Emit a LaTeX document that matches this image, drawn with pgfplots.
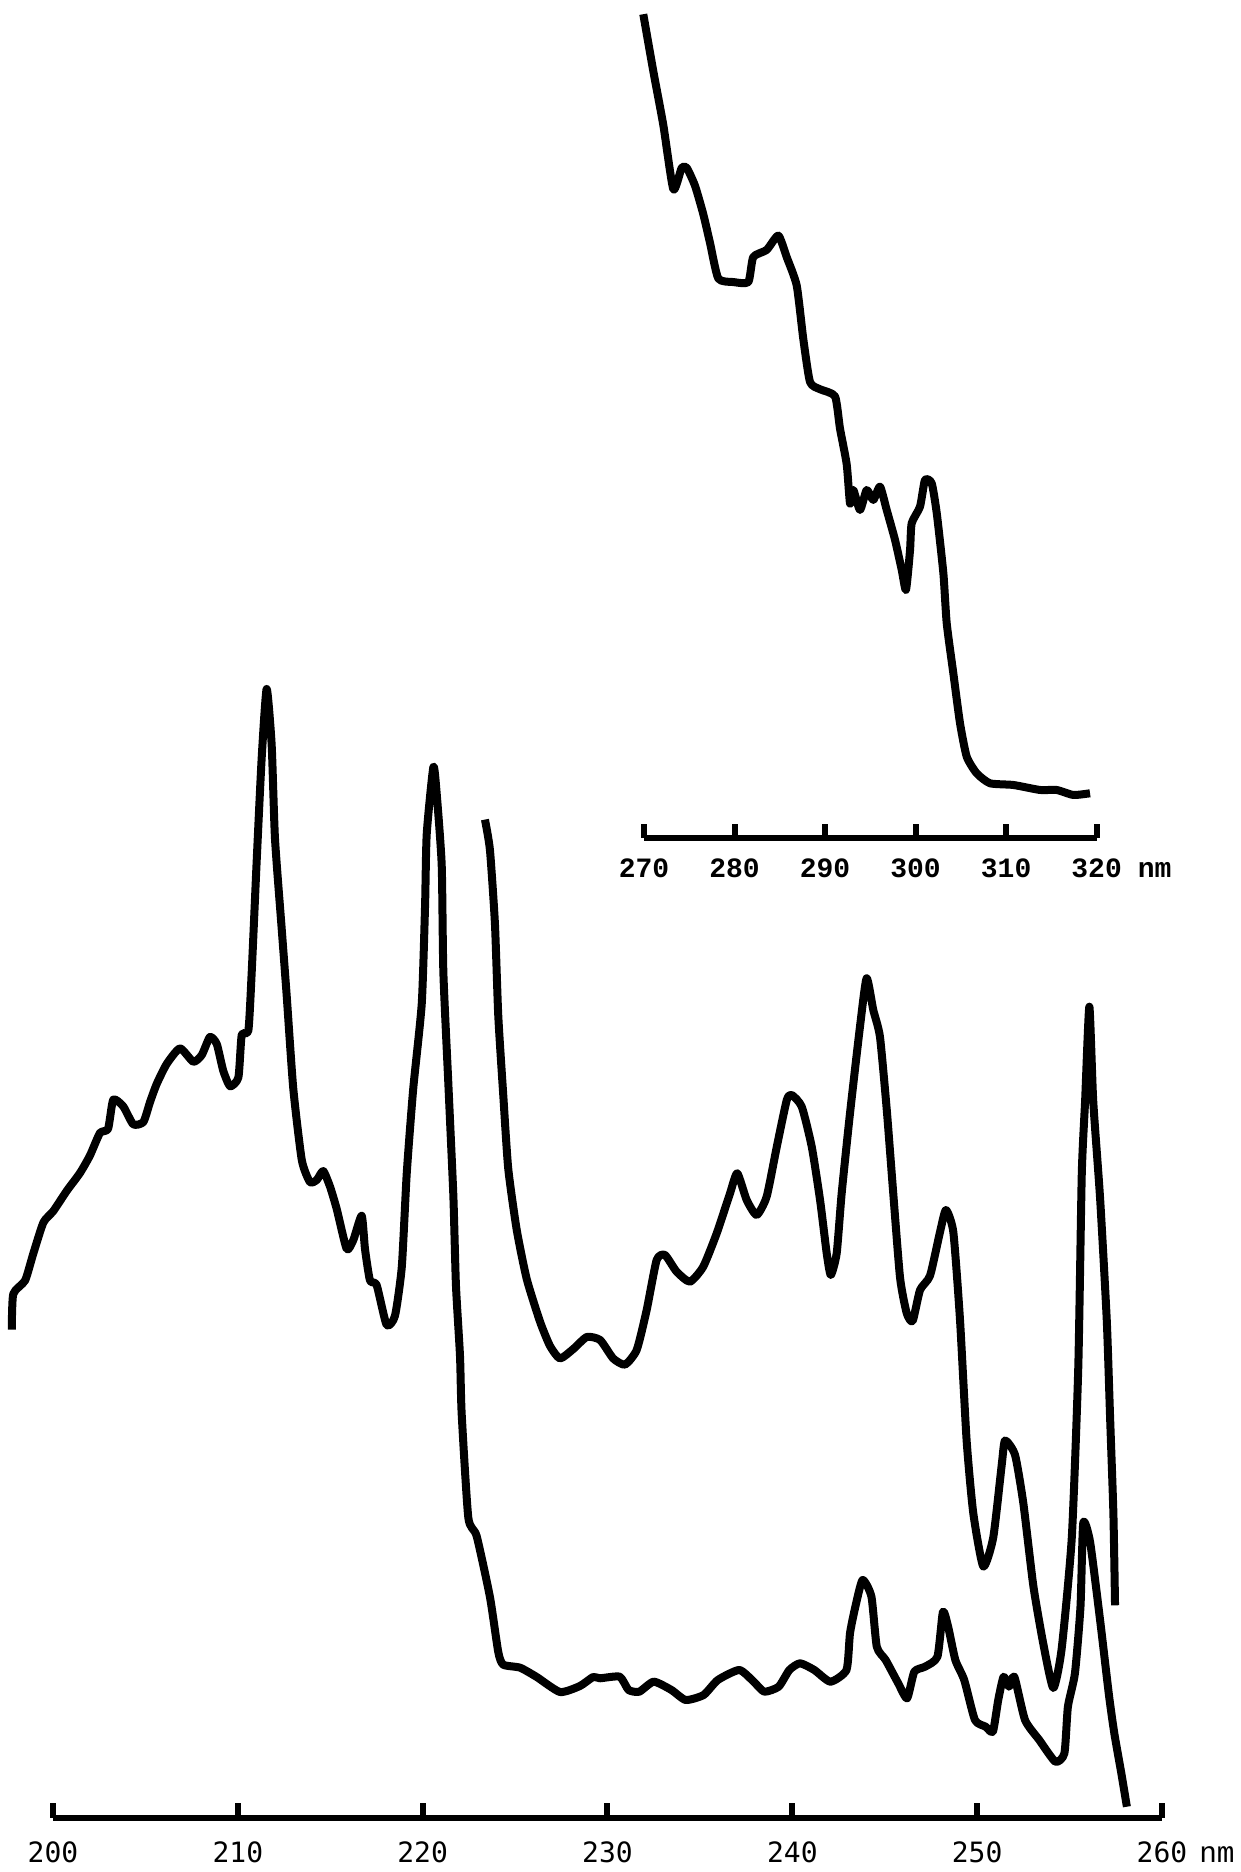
\documentclass[border=0pt]{standalone}
\usepackage{pgfplots}
\pgfplotsset{compat=1.18}
\usepackage{fontspec}
\setmainfont{Liberation Sans}
\newfontfamily\monofont{Liberation Mono}
\newfontfamily\digfont{DejaVu Sans Mono}

\begin{document}
\begin{tikzpicture}
\useasboundingbox (0,0) rectangle (248.2pt,374.4pt);
% ---------------- lower spectrum, 200-260 nm ----------------
\begin{axis}[
  at={(10.6pt,10.8pt)}, anchor=south west,
  scale only axis, width=221.8pt, height=363.6pt,
  xmin=200, xmax=260, ymin=-1818, ymax=0,
  axis x line=bottom, axis y line=none,
  x axis line style={-, line width=1.2pt},
  xtick={200,210,220,230,240,250,260},
  xticklabels={200,210,220,230,240,250,{260\rlap{\hspace{2.4pt}\monofont\fontsize{5.9}{7}\selectfont nm}}},
  xtick align=inside,
  major tick length=3pt,
  major tick style={line width=1.2pt, black},
  xticklabel style={font=\digfont\fontsize{5.6}{6}\selectfont, anchor=north, inner sep=0pt, yshift=-4.6pt},
  clip=false, no markers,
]
% curve A (lower trace)
\addplot[black, line width=1.6pt, line join=round, smooth, tension=0.35] coordinates {
(197.77,-1329.6)(197.85,-1294)(198.49,-1280.5)(198.93,-1253.8)(199.48,-1222.5)
(200.02,-1211)(200.74,-1191)(201.46,-1173)(202.00,-1155.5)(202.54,-1133)
(202.98,-1128.8)(203.26,-1099.7)(203.80,-1106.4)(204.34,-1124.3)(204.89,-1122)
(205.25,-1102)(205.61,-1084)(206.15,-1064)(206.87,-1048.4)(207.59,-1061.8)
(208.05,-1055)(208.49,-1037)(208.86,-1044)(209.21,-1070.7)(209.58,-1086.3)
(210.03,-1077.4)(210.21,-1035)(210.57,-1030.5)(210.75,-972.5)(211.02,-861)
(211.29,-758)(211.56,-689)(211.83,-744.8)(212.01,-838.6)(212.37,-928)
(212.64,-994.8)(213.00,-1088.6)(213.46,-1160)(213.90,-1182)(214.27,-1180)
(214.62,-1171)(214.99,-1186.8)(215.35,-1209)(215.89,-1249)(216.25,-1240)
(216.70,-1215.8)(216.88,-1249)(217.15,-1280.5)(217.51,-1285)(218.05,-1325)
(218.50,-1316)(218.87,-1267)(219.14,-1173)(219.49,-1088.6)(219.95,-1003.8)
(220.13,-905.5)(220.22,-834)(220.58,-767)(220.76,-794)(221.03,-865)
(221.12,-972.5)(221.39,-1084)(221.66,-1195.7)(221.80,-1285)(222.02,-1356)
(222.11,-1413.6)(222.47,-1517.7)(222.92,-1536)(223.64,-1597)(224.09,-1652)
(224.36,-1664.7)(225.27,-1667.7)(226.17,-1677)(227.43,-1692)(228.51,-1686)
(229.22,-1677)(229.59,-1678.3)(230.66,-1676.7)(231.14,-1690)(231.72,-1691.7)
(232.50,-1681.7)(233.46,-1690)(234.23,-1700)(235.20,-1695)(235.97,-1680)
(237.13,-1670)(237.91,-1681.7)(238.48,-1691.7)(239.26,-1686.7)(239.84,-1670)
(240.42,-1663.3)(241.19,-1670)(242.06,-1681.7)(242.93,-1670)(243.12,-1633.3)
(243.41,-1606.7)(243.80,-1580)(244.28,-1596.7)(244.57,-1646.7)(245.05,-1660)
(245.73,-1683.3)(246.21,-1698.3)(246.60,-1671.7)(247.18,-1666.7)(247.85,-1656.7)
(248.15,-1611.7)(248.43,-1626.7)(248.82,-1660)(249.30,-1680)(249.88,-1720)
(250.46,-1726.7)(250.85,-1731.7)(251.14,-1700)(251.43,-1676.7)(251.72,-1686.7)
(252.01,-1676.7)(252.59,-1720)(253.36,-1740)(254.23,-1761.7)(254.72,-1753.3)
(254.91,-1706.7)(255.29,-1673.3)(255.59,-1606.7)(255.74,-1523)(256.11,-1542)
(256.65,-1620)(257.13,-1695)(257.42,-1733.3)(257.80,-1773.3)(258.10,-1806.7)
};
% curve B (upper trace)
\addplot[black, line width=1.6pt, line join=round, smooth, tension=0.35] coordinates {
(223.37,-819.6)(223.64,-850)(223.91,-923.7)(224.09,-1015.6)(224.36,-1095)
(224.63,-1168.6)(225.09,-1230)(225.63,-1279)(226.35,-1321.7)(226.89,-1346)
(227.43,-1358.5)(228.15,-1349)(228.88,-1337)(229.60,-1340)(230.31,-1358.5)
(230.95,-1364.6)(231.58,-1350)(232.12,-1310)(232.66,-1260)(233.11,-1255)
(233.74,-1271.7)(234.46,-1281.7)(235.18,-1266.7)(235.91,-1233.3)(236.63,-1193.3)
(237.02,-1173.3)(237.53,-1200)(238.07,-1215)(238.61,-1196.7)(239.16,-1146.7)
(239.70,-1100)(239.97,-1095)(240.51,-1106.7)(241.05,-1146.7)(241.50,-1200)
(241.86,-1253.3)(242.08,-1275)(242.40,-1253.3)(242.67,-1193.3)(243.12,-1113.3)
(243.66,-1026.7)(244.02,-978.3)(244.38,-1010)(244.74,-1036.7)(245.11,-1110)
(245.46,-1193.3)(245.83,-1278)(246.19,-1313.3)(246.51,-1321)(246.91,-1290)
(247.45,-1275.7)(247.99,-1232)(248.31,-1210)(248.71,-1232)(249.07,-1319.3)
(249.43,-1440.5)(249.79,-1513.2)(250.33,-1566.5)(250.87,-1537.5)(251.33,-1464.7)
(251.51,-1440.5)(252.05,-1455)(252.50,-1503.5)(253.04,-1586)(253.58,-1644)
(254.12,-1688)(254.57,-1649)(255.12,-1537.5)(255.47,-1367.8)(255.66,-1173.9)
(255.84,-1101.2)(256.07,-1006.7)(256.28,-1101.2)(256.65,-1198)(257.01,-1319.3)
(257.19,-1416.3)(257.37,-1513.2)(257.46,-1605.3)
};
\end{axis}
% ---------------- upper spectrum, 270-320 nm ----------------
\begin{axis}[
  at={(128.8pt,206.8pt)}, anchor=south west,
  scale only axis, width=90.52pt, height=167.6pt,
  xmin=270, xmax=320, ymin=-838, ymax=0,
  axis x line=bottom, axis y line=none,
  x axis line style={-, line width=1.2pt},
  xtick={270,280,290,300,310,320},
  xticklabels={270,280,290,300,310,{320\rlap{\hspace{3.2pt}nm}}},
  xtick align=inside,
  major tick length=2.8pt,
  major tick style={line width=1.2pt, black},
  xticklabel style={font=\monofont\bfseries\fontsize{5.6}{6}\selectfont, anchor=north, inner sep=0pt, yshift=-4pt},
  clip=false, no markers,
]
\addplot[black, line width=1.6pt, line join=round, smooth, tension=0.35] coordinates {
(269.92,-14.3)(271.03,-71.4)(272.13,-125)(273.24,-189.3)(274.16,-167.9)
(274.72,-167.9)(275.63,-185.7)(276.55,-214.3)(277.29,-242.9)(278.21,-278.6)
(279.87,-282.1)(281.52,-282.1)(282.07,-257.1)(283.55,-250)(284.84,-235.7)
(285.76,-257.1)(286.87,-285.7)(287.60,-339.3)(288.34,-382.1)(289.44,-389.3)
(291.10,-396.4)(291.65,-428.6)(292.39,-464.3)(292.76,-503.6)(293.12,-490)
(293.86,-510)(294.60,-490)(295.33,-500)(296.07,-486.7)(296.81,-510)
(297.73,-540)(298.47,-570)(298.94,-590)(299.39,-550)(299.57,-523.3)
(300.49,-506.7)(301.04,-480)(301.78,-483.3)(302.34,-513.3)(303.07,-573.3)
(303.44,-623.3)(304.17,-673.3)(304.91,-723.3)(305.65,-756.7)(306.75,-773.3)
(308.22,-783.3)(310.80,-785)(313.75,-790)(315.59,-790)(317.43,-795)
(319.27,-793.3)
};
\end{axis}
\end{tikzpicture}
\end{document}
